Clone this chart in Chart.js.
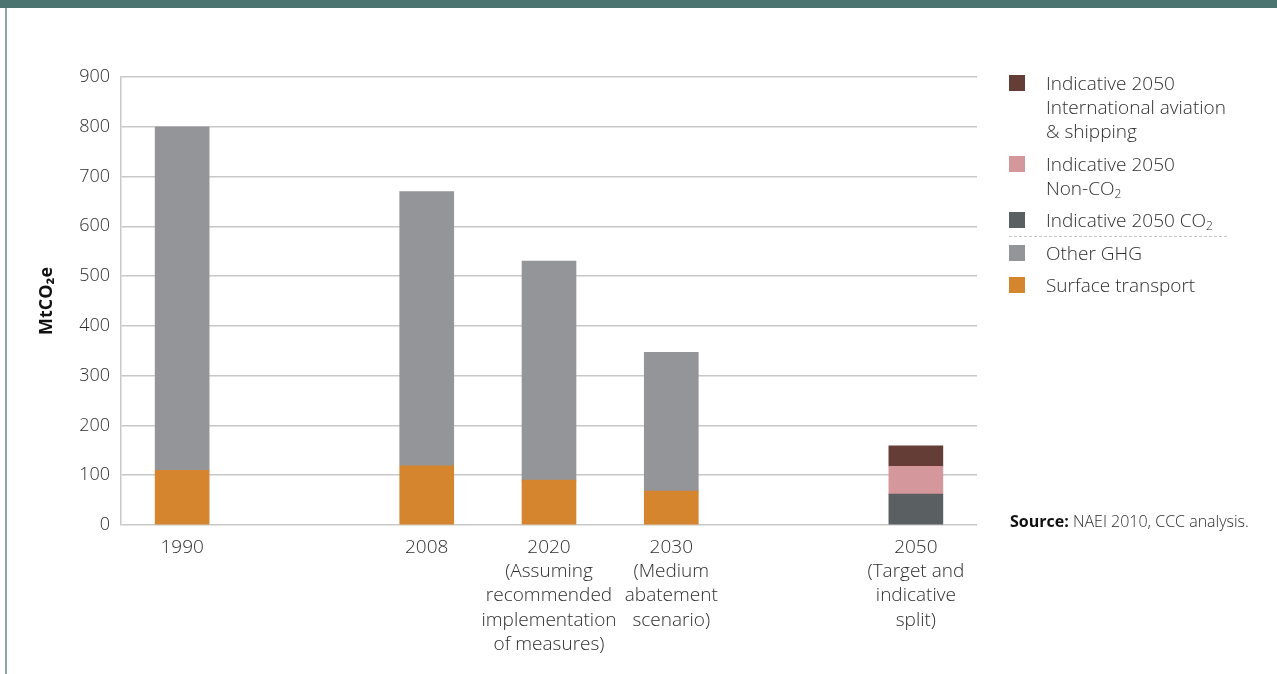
<!DOCTYPE html>
<html>
<head>
<meta charset="utf-8">
<script src="https://cdn.jsdelivr.net/npm/chart.js@4/dist/chart.umd.min.js"></script>
<style>
  body { margin: 0; background: #fff; font-family: 'Open Sans', sans-serif; color: #2e2e2e; }
  #wrap { position: relative; width: 1277px; height: 674px; overflow: hidden; }
  #band { position: absolute; left: 0; top: 0; width: 1277px; height: 8px; background: #4b7470; }
  #edge { position: absolute; left: 5px; top: 8px; width: 2px; height: 666px; background: #8aa7a3; }
  #chart { position: absolute; left: 0; top: 0; }
  .leg { position: absolute; left: 1009px; font-size: 19px; line-height: 24px; font-weight: 300; }
  .leg .sw { position: absolute; left: 0; top: 4px; width: 16px; height: 16px; }
  .leg .tx { margin-left: 37px; white-space: nowrap; }
  .leg sub { font-size: 12px; vertical-align: -3px; line-height: 0; }
  #dash { position: absolute; left: 1009px; top: 236px; width: 218px; border-top: 1.5px dashed #c8c8c8; }
  #src { position: absolute; left: 1010px; top: 510px; font-size: 16px; white-space: nowrap; font-weight: 300; }
  #src b { font-weight: 700; color: #111; }
</style>
</head>
<body>
<div id="wrap">
  <canvas id="chart" width="1277" height="674"></canvas>
  <div id="band"></div>
  <div id="edge"></div>

  <div class="leg" style="top:71px"><div class="sw" style="background:#643d37"></div><div class="tx">Indicative 2050<br>International aviation<br>&amp; shipping</div></div>
  <div class="leg" style="top:152px"><div class="sw" style="background:#d4979b"></div><div class="tx">Indicative 2050<br>Non-CO<sub>2</sub></div></div>
  <div class="leg" style="top:208px"><div class="sw" style="background:#5a5f62"></div><div class="tx">Indicative 2050 CO<sub>2</sub></div></div>
  <div id="dash"></div>
  <div class="leg" style="top:241px"><div class="sw" style="background:#939598"></div><div class="tx">Other GHG</div></div>
  <div class="leg" style="top:273px"><div class="sw" style="background:#d6852f"></div><div class="tx">Surface transport</div></div>

  <div id="src"><b>Source:</b> NAEI 2010, CCC analysis.</div>
</div>

<script>
  // categories (blank slots keep the uneven spacing of the original)
  var categories = [
    ['1990'],
    [''],
    ['2008'],
    ['2020', '(Assuming', 'recommended', 'implementation', 'of measures)'],
    ['2030', '(Medium', 'abatement', 'scenario)'],
    [''],
    ['2050', '(Target and', 'indicative', 'split)']
  ];

  // MtCO2e
  var surfaceTransport = [110, null, 119, 90, 68, null, null];
  var otherGHG = [690, null, 551, 440, 279, null, null];
  var co2_2050 = [null, null, null, null, null, null, 62];
  var nonCo2_2050 = [null, null, null, null, null, null, 56];
  var aviationShipping_2050 = [null, null, null, null, null, null, 41];

  var yTicks = [0, 100, 200, 300, 400, 500, 600, 700, 800, 900];

  var fontFam = "'Open Sans', sans-serif";

  function ds(label, data, color) {
    return {
      label: label,
      data: data,
      backgroundColor: color,
      borderWidth: 0,
      stack: 's',
      barThickness: 54
    };
  }

  var ctx = document.getElementById('chart');
  var myChart = new Chart(ctx, {
    type: 'bar',
    data: {
      labels: categories,
      datasets: [
        ds('Surface transport', surfaceTransport, '#d6852f'),
        ds('Other GHG', otherGHG, '#939598'),
        ds('Indicative 2050 CO2', co2_2050, '#5a5f62'),
        ds('Indicative 2050 Non-CO2', nonCo2_2050, '#d4979b'),
        ds('Indicative 2050 International aviation & shipping', aviationShipping_2050, '#643d37')
      ]
    },
    options: {
      responsive: false,
      animation: false,
      layout: {
        padding: { left: 10, right: 300, top: 77, bottom: 0 }
      },
      scales: {
        x: {
          stacked: true,
          grid: { display: false, drawTicks: false },
          border: { display: false },
          ticks: {
            color: '#2e2e2e',
            padding: 11,
            maxRotation: 0,
            autoSkip: false,
            font: { family: fontFam, size: 19, weight: 300, lineHeight: 1.265 }
          },
          afterFit: function(scale) { scale.height = 149; }
        },
        y: {
          stacked: true,
          min: 0,
          max: 900,
          afterBuildTicks: function(scale) {
            scale.ticks = yTicks.map(function(v) { return { value: v }; });
          },
          grid: { color: '#c8c8c8', lineWidth: 1.5, drawTicks: false },
          border: { display: true, color: '#c8c8c8', width: 1.5 },
          ticks: {
            color: '#2e2e2e',
            padding: 11,
            font: { family: fontFam, size: 18, weight: 300 }
          },
          title: {
            display: true,
            text: 'MtCO\u2082e',
            color: '#111',
            padding: { top: 26, bottom: 0 },
            font: { family: fontFam, size: 18, weight: 'bold' }
          },
          afterFit: function(scale) { scale.width = 111; }
        }
      },
      plugins: {
        legend: { display: false },
        tooltip: { enabled: true }
      }
    }
  });
</script>
</body>
</html>
